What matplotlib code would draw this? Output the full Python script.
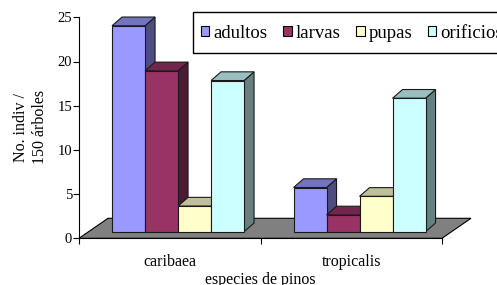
import matplotlib.pyplot as plt
from matplotlib.patches import Polygon, Patch, Rectangle

plt.rcParams['font.family'] = 'serif'
plt.rcParams['font.serif'] = ['Liberation Serif', 'DejaVu Serif']

categories = ["caribaea", "tropicalis"]
series = ["adultos", "larvas", "pupas", "orificios"]
adultos = [23.3, 5.0]
larvas = [18.2, 1.9]
pupas = [2.9, 4.0]
orificios = [17.1, 15.1]
values = [adultos, larvas, pupas, orificios]

front_colors = ["#9999FF", "#993366", "#FFFFCC", "#CCFFFF"]
top_colors = ["#7373BF", "#73264D", "#BFBF99", "#99BFBF"]
side_colors = ["#4D4D80", "#4D1A33", "#80806A", "#668080"]

W, H = 497, 285
fig = plt.figure(figsize=(W / 100, H / 100), dpi=100)
ax = fig.add_axes([79 / W, 46.7 / H, 363 / W, 221 / H])
ax.set_xlim(-0.5, 1.5)
ax.set_ylim(0, 25)

# fake 3D offsets in data units
px_x = 2 / 363.0
px_y = 25 / 221.0
floor_dx, floor_dy = 29 * px_x, 20 * px_y
shift_x, base = 8.3 * px_x, 6.6 * px_y
ddx, ddy = 10 * px_x, 8.7 * px_y
bw = 33 * px_x

floor = Polygon([(-0.5, 0), (1.5, 0), (1.5 + floor_dx, floor_dy),
                 (-0.5 + floor_dx, floor_dy)], closed=True,
                facecolor="#808080", edgecolor="black", lw=0.8,
                clip_on=False, zorder=1)
ax.add_patch(floor)

ec = "#1a1a1a"
z = 2.0
for i in range(len(categories)):
    for j, vals in enumerate(values):
        v = vals[i]
        x = i + shift_x - 2 * bw + j * bw
        ax.bar(x, v, width=bw, bottom=base, align="edge",
               color=front_colors[j], edgecolor=ec, lw=0.8,
               clip_on=False, zorder=z)
        side = Polygon([(x + bw, base), (x + bw + ddx, base + ddy),
                        (x + bw + ddx, base + v + ddy), (x + bw, base + v)],
                       closed=True, facecolor=side_colors[j], edgecolor=ec,
                       lw=0.8, clip_on=False, zorder=z - 0.001)
        top = Polygon([(x, base + v), (x + ddx, base + v + ddy),
                       (x + bw + ddx, base + v + ddy), (x + bw, base + v)],
                      closed=True, facecolor=top_colors[j], edgecolor=ec,
                      lw=0.8, clip_on=False, zorder=z - 0.001)
        ax.add_patch(side)
        ax.add_patch(top)
        z += 0.01

for s in ["top", "right"]:
    ax.spines[s].set_visible(False)
ax.spines["left"].set_zorder(10)
ax.spines["bottom"].set_zorder(10)
ax.patch.set_visible(False)

ax.set_yticks([0, 5, 10, 15, 20, 25])
ax.tick_params(axis="y", direction="out", length=4, width=0.8, pad=1,
               labelsize=10.5)
ax.set_xticks([0, 1])
ax.set_xticklabels(categories)
ax.set_xticks([-0.5, 0.5, 1.5], minor=True)
ax.tick_params(axis="x", which="major", length=0, pad=11, labelsize=11.5)
ax.tick_params(axis="x", which="minor", direction="out", length=4, width=0.8)

ax.set_xlabel("especies de pinos", fontsize=11.5, labelpad=2)
fig.text(31 / W, 1 - 127 / H, "No. indiv /\n150 árboles", rotation=90,
         ha="center", va="center", multialignment="center", fontsize=11.5,
         linespacing=1.25)

# legend box (runs off the right edge like the original)
fig.patches.append(Rectangle((193 / W, 1 - 53 / H), 320 / W, 41 / H,
                             transform=fig.transFigure, fill=False,
                             edgecolor="black", lw=1.0))
handles = [Patch(facecolor=c, edgecolor="black", lw=0.8) for c in front_colors]
leg = fig.legend(handles, series, ncol=4, loc="center left",
                 bbox_to_anchor=(201 / W, 1 - 33 / H), fontsize=13.5,
                 frameon=False, handlelength=0.45, handleheight=0.45,
                 handletextpad=0.2, columnspacing=0.85, borderpad=0,
                 borderaxespad=0)

fig.savefig("out.png", dpi=100)
